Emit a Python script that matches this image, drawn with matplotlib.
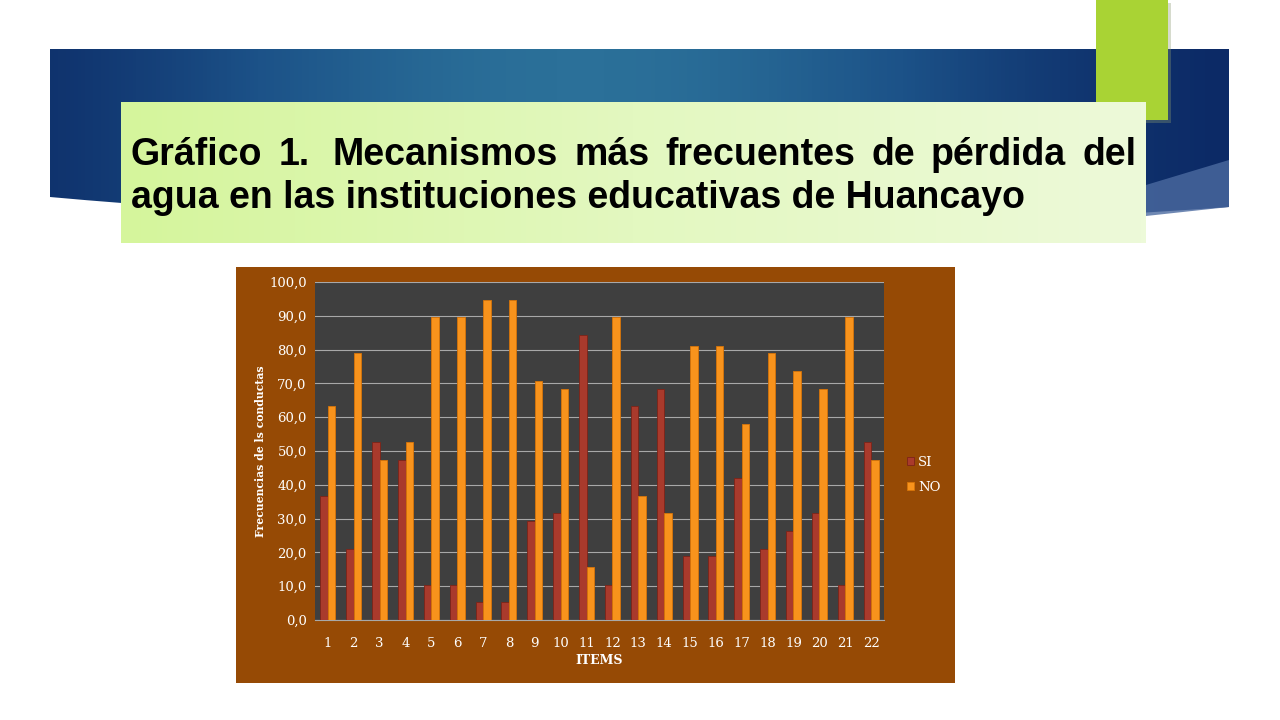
import numpy as np
import matplotlib.pyplot as plt
from matplotlib.patches import Rectangle, PathPatch, Polygon
from matplotlib.path import Path
from matplotlib.colors import LinearSegmentedColormap

# Datos
items = [str(i) for i in range(1, 23)]
si = [36.8, 21.1, 52.6, 47.4, 10.5, 10.5, 5.3, 5.3, 29.4, 31.6, 84.2,
      10.5, 63.2, 68.4, 18.8, 18.8, 42.1, 21.1, 26.3, 31.6, 10.5, 52.6]
no = [63.2, 78.9, 47.4, 52.6, 89.5, 89.5, 94.7, 94.7, 70.6, 68.4, 15.8,
      89.5, 36.8, 31.6, 81.2, 81.2, 57.9, 78.9, 73.7, 68.4, 89.5, 47.4]
yticks = np.arange(0, 101, 10)
titulo_l1 = "Gráfico 1.  Mecanismos más frecuentes de pérdida del"
titulo_l2 = "agua en las instituciones educativas de Huancayo"

W, H = 1280, 720
fig = plt.figure(figsize=(12.8, 7.2), dpi=100)
fig.patch.set_facecolor('white')

# fondo de la diapositiva en coordenadas de pixel
bg = fig.add_axes([0, 0, 1, 1])
bg.set_xlim(0, W)
bg.set_ylim(H, 0)
bg.axis('off')

# banda azul con degradado
verts = [(50, 49), (1229, 49), (1229, 207), (640, 250), (50, 197), (50, 49)]
codes = [Path.MOVETO, Path.LINETO, Path.LINETO, Path.CURVE3, Path.CURVE3, Path.CLOSEPOLY]
banda = PathPatch(Path(verts, codes), facecolor='none', edgecolor='none')
bg.add_patch(banda)
xx = np.linspace(0, 1, 300)
grad = np.exp(-((xx - 0.45) / 0.35) ** 2)
grad = np.tile(grad, (50, 1))
cmap_azul = LinearSegmentedColormap.from_list('azul', ['#0c2a66', '#1c5288', '#2b7099'])
im = bg.imshow(grad, cmap=cmap_azul, extent=(50, 1229, 250, 49), aspect='auto', zorder=1)
im.set_clip_path(banda)
bg.add_patch(Polygon([(1146, 185), (1229, 160), (1229, 207), (1146, 216)],
                     closed=True, facecolor='#4b6aa0', edgecolor='none', alpha=0.8, zorder=2))

# barra verde vertical
bg.add_patch(Rectangle((1099, 3), 72, 120, facecolor='#8a9a70', alpha=0.35, edgecolor='none', zorder=3))
bg.add_patch(Rectangle((1096, 0), 72, 120, facecolor='#a9d334', edgecolor='none', zorder=4))

# caja del titulo con degradado verde
cmap_verde = LinearSegmentedColormap.from_list('verde', ['#d5f59c', '#e3f8c0', '#edfad9'])
bg.imshow(np.tile(np.linspace(0, 1, 200), (10, 1)), cmap=cmap_verde,
          extent=(121, 1146, 243, 102), aspect='auto', zorder=5)

# titulo justificado (linea 1) y alineado a la izquierda (linea 2)
fs_tit = 27
extra = 7  # el doble espacio tras "1."
fig.canvas.draw()
renderer = fig.canvas.get_renderer()
palabras = titulo_l1.replace('  ', ' ').split(' ')
anchos = []
for p in palabras:
    t = bg.text(0, 0, p, fontsize=fs_tit, fontweight='bold', family='Liberation Sans')
    anchos.append(t.get_window_extent(renderer=renderer).width)
    t.remove()
x0, x1 = 131, 1136
hueco = (x1 - x0 - sum(anchos) - extra) / (len(palabras) - 1)
x = x0
for p, a in zip(palabras, anchos):
    bg.text(x, 165, p, fontsize=fs_tit, fontweight='bold', family='Liberation Sans',
            color='black', va='baseline', ha='left', zorder=6)
    x += a + hueco + (extra if p == '1.' else 0)
bg.text(131, 208, titulo_l2, fontsize=fs_tit, fontweight='bold', family='Liberation Sans',
        color='black', va='baseline', ha='left', zorder=6)

# panel marron del grafico
bg.add_patch(Rectangle((236, 267), 719, 416, facecolor='#964a05', edgecolor='none', zorder=5))

# ejes del grafico de barras
ax = fig.add_axes([315 / W, 1 - 620 / H, 569 / W, 338 / H])
ax.set_facecolor('#3f3f3f')
pos = np.arange(1, len(items) + 1)
ancho = 0.29
ax.bar(pos - ancho / 2, si, width=ancho, color='#a93a2c', edgecolor='#7d2418', linewidth=0.6,
       label='SI', zorder=3)
ax.bar(pos + ancho / 2, no, width=ancho, color='#f8931c', edgecolor='#d77408', linewidth=0.6,
       label='NO', zorder=3)
ax.set_xlim(0.5, len(items) + 0.5)
ax.set_ylim(0, 100)
ax.set_yticks(yticks)
ax.set_yticklabels([f"{v:.1f}".replace('.', ',') for v in yticks])
ax.set_xticks(pos)
ax.set_xticklabels(items)
ax.yaxis.grid(True, color='#a8a8a8', linewidth=0.8, zorder=0)
ax.set_axisbelow(True)
ax.tick_params(length=0, colors='white', labelsize=9.5)
ax.tick_params(axis='x', pad=12)
ax.tick_params(axis='y', pad=6)
for lbl in ax.get_xticklabels() + ax.get_yticklabels():
    lbl.set_family('DejaVu Serif')
for s in ax.spines.values():
    s.set_visible(False)
ax.spines['bottom'].set_visible(True)
ax.spines['bottom'].set_color('#a8a8a8')
ax.set_xlabel('ITEMS', color='white', fontsize=9, fontweight='bold', family='DejaVu Serif', labelpad=3)
ax.set_ylabel('Frecuencias de ls conductas', color='white', fontsize=7.8, fontweight='bold',
              family='DejaVu Serif', labelpad=2)

leg = ax.legend(loc='center left', bbox_to_anchor=(1.02, 0.43), frameon=False,
                handlelength=0.5, handleheight=0.5, handletextpad=0.3, labelspacing=0.9,
                prop={'family': 'DejaVu Serif', 'size': 9.5})
for t in leg.get_texts():
    t.set_color('white')

fig.savefig('out.png', dpi=100, facecolor='white')
